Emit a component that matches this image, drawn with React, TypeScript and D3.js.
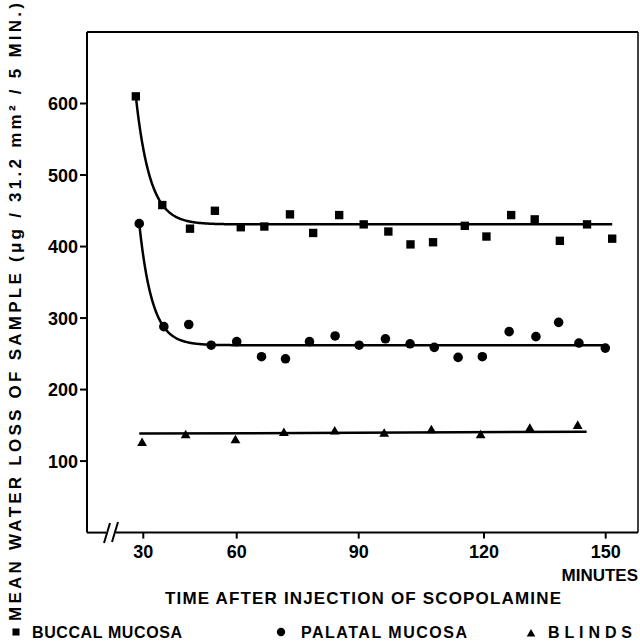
import React from "react";
import * as d3 from "d3";

// time (min) and water loss values
const buccalTime = [27.6, 36.1, 45.0, 53.0, 61.0, 66.8, 73.1, 78.8, 85.2, 91.2, 97.1, 102.4, 107.8, 115.4, 120.6, 126.7, 132.5, 138.7, 145.4, 151.6];
const buccalLoss = [610, 458, 425, 450, 427, 428, 445, 419, 444, 431, 421, 403, 406, 429, 414, 444, 438, 408, 431, 411];

const palatalTime = [28.7, 36.6, 44.6, 51.8, 60.0, 66.1, 72.0, 77.9, 84.2, 90.1, 96.4, 102.3, 108.1, 113.8, 119.6, 126.2, 132.8, 138.4, 143.4, 149.9];
const palatalLoss = [432, 288, 291, 262, 267, 246, 243, 267, 275, 262, 271, 264, 259, 245, 246, 281, 274, 294, 265, 258];

const blindsTime = [29.6, 43.6, 59.6, 71.6, 84.1, 96.1, 107.4, 119.2, 131.3, 143.1];
const blindsLoss = [125, 136, 129, 139, 141, 138, 143, 136, 145, 149];

// fitted curves drawn through the points: start -> plateau decay
const buccalFit = { t0: 27.6, y0: 610, plateau: 431, rate: 0.22, tEnd: 151.6 };
const palatalFit = { t0: 28.7, y0: 432, plateau: 262, rate: 0.24, tEnd: 150 };
const blindsFit = { times: [28.7, 145.3], values: [138.4, 141] };

const xTicks = [30, 60, 90, 120, 150];
const yTicks = [100, 200, 300, 400, 500, 600];

const W = 640;
const H = 643;
const FONT = "'Liberation Sans', Arial, Helvetica, sans-serif";

export default function App() {
  const left = 87, right = 638, top = 32, bottom = 532.6;

  // the original axis is not evenly spaced (broken at the start)
  const x = d3.scaleLinear().domain(xTicks).range([143.3, 236.7, 358.7, 484, 605.7]);
  const y = d3.scaleLinear().domain([0, 700]).range([bottom, top]);

  const line = d3.line<[number, number]>().x((d) => x(d[0])).y((d) => y(d[1]));

  const decay = (f: typeof buccalFit) =>
    d3.range(f.t0, f.tEnd + 0.01, 0.25).map((t) => [t, f.plateau + (f.y0 - f.plateau) * Math.exp(-f.rate * (t - f.t0))] as [number, number]);

  const square = d3.symbol().type(d3.symbolSquare).size(70)()!;
  const circle = d3.symbol().type(d3.symbolCircle).size(72)()!;
  const tri = d3.symbol().type(d3.symbolTriangle).size(42)()!;

  const sqSmall = d3.symbol().type(d3.symbolSquare).size(50)()!;
  const ciSmall = d3.symbol().type(d3.symbolCircle).size(55)()!;
  const trSmall = d3.symbol().type(d3.symbolTriangle).size(32)()!;

  const txt = { fontFamily: FONT, fontWeight: 700, fill: "#000" } as const;

  return (
    <svg width={W} height={H} viewBox={`0 0 ${W} ${H}`} style={{ position: "absolute", left: 0, top: 0, background: "#fff" }}>
      {/* frame */}
      <g stroke="#000" strokeWidth={2} fill="none">
        <line x1={left} y1={top} x2={right} y2={top} />
        <line x1={left} y1={top} x2={left} y2={bottom} />
        <line x1={right} y1={top} x2={right} y2={bottom} strokeWidth={1.5} />
        <line x1={left} y1={bottom} x2={106} y2={bottom} />
        <line x1={116} y1={bottom} x2={right} y2={bottom} />
        {/* axis break */}
        <line x1={110} y1={523} x2={104} y2={543} />
        <line x1={118} y1={522} x2={112} y2={542} />
      </g>

      {/* y ticks */}
      {yTicks.map((v) => (
        <g key={v}>
          <line x1={left - 7} x2={left} y1={y(v)} y2={y(v)} stroke="#000" strokeWidth={2} />
          <text x={left - 9} y={y(v)} dy="0.36em" textAnchor="end" fontSize={18} {...txt}>{v}</text>
        </g>
      ))}

      {/* x ticks */}
      {xTicks.map((v) => (
        <g key={v}>
          <line x1={x(v)} x2={x(v)} y1={bottom} y2={bottom + 6} stroke="#000" strokeWidth={2} />
          <text x={x(v)} y={558} textAnchor="middle" fontSize={18} {...txt}>{v}</text>
        </g>
      ))}

      <text x={638} y={581} textAnchor="end" fontSize={17} {...txt}>MINUTES</text>
      <text x={363} y={604} textAnchor="middle" fontSize={17} textLength={396} lengthAdjust="spacing" {...txt}>
        TIME AFTER INJECTION OF SCOPOLAMINE
      </text>

      <text transform="translate(21,312) rotate(-90)" textAnchor="middle" fontSize={17} textLength={618} lengthAdjust="spacing" {...txt}>
        MEAN WATER LOSS OF SAMPLE  (μg / 31.2 mm² / 5 MIN.)
      </text>

      {/* fitted lines */}
      <g fill="none" stroke="#000" strokeWidth={2.5}>
        <path d={line(decay(buccalFit))!} />
        <path d={line(decay(palatalFit))!} />
        <path d={line(blindsFit.times.map((t, i) => [t, blindsFit.values[i]] as [number, number]))!} />
      </g>

      {/* points */}
      {buccalTime.map((t, i) => (
        <path key={"b" + i} d={square} transform={`translate(${x(t)},${y(buccalLoss[i])})`} fill="#000" />
      ))}
      {palatalTime.map((t, i) => (
        <path key={"p" + i} d={circle} transform={`translate(${x(t)},${y(palatalLoss[i])})`} fill="#000" />
      ))}
      {blindsTime.map((t, i) => (
        <path key={"t" + i} d={tri} transform={`translate(${x(t)},${y(blindsLoss[i])})`} fill="#000" />
      ))}

      {/* legend */}
      <path d={sqSmall} transform="translate(16,632)" fill="#000" />
      <text x={32} y={638} fontSize={16} textLength={150} lengthAdjust="spacing" {...txt}>BUCCAL  MUCOSA</text>
      <path d={ciSmall} transform="translate(281,632)" fill="#000" />
      <text x={301} y={638} fontSize={16} textLength={166} lengthAdjust="spacing" {...txt}>PALATAL  MUCOSA</text>
      <path d={trSmall} transform="translate(531,634)" fill="#000" />
      <text x={548} y={638} fontSize={16} textLength={84} lengthAdjust="spacing" {...txt}>BLINDS</text>
    </svg>
  );
}
